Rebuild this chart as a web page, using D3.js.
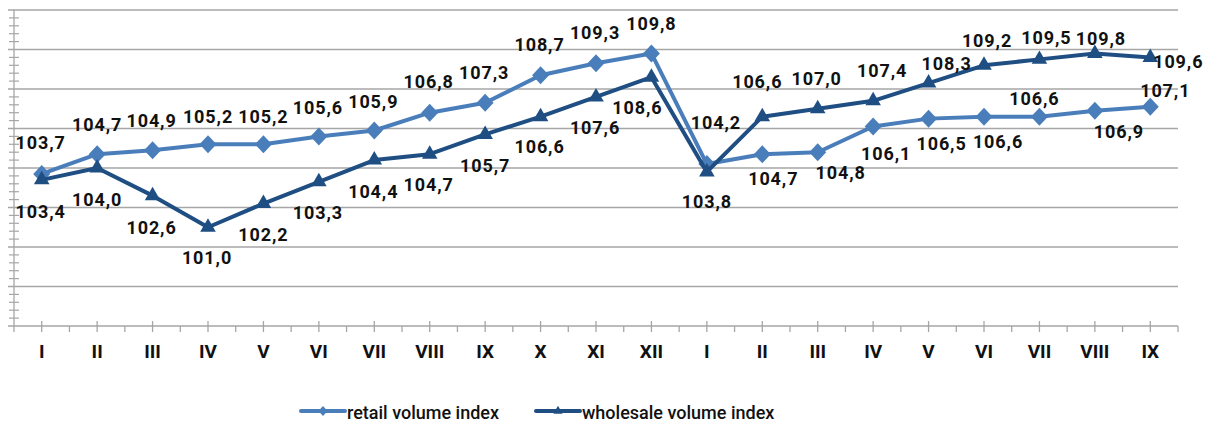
<!DOCTYPE html>
<html>
<head>
<meta charset="utf-8">
<script src="https://cdn.jsdelivr.net/npm/d3@7"></script>
<style>
  html, body { margin: 0; padding: 0; background: #fff; }
  svg { display: block; font-family: Roboto, "Noto Sans", sans-serif; }
</style>
</head>
<body>
<svg id="chart" width="1220" height="424"></svg>
<script>
// ---- data ----
const categories = ["I","II","III","IV","V","VI","VII","VIII","IX","X","XI","XII",
                    "I","II","III","IV","V","VI","VII","VIII","IX"];
const retail = [103.7,104.7,104.9,105.2,105.2,105.6,105.9,106.8,107.3,108.7,109.3,109.8,
                104.2,104.7,104.8,106.1,106.5,106.6,106.6,106.9,107.1];
const wholesale = [103.4,104.0,102.6,101.0,102.2,103.3,104.4,104.7,105.7,106.6,107.6,108.6,
                   103.8,106.6,107.0,107.4,108.3,109.2,109.5,109.8,109.6];
const seriesNames = ["retail volume index", "wholesale volume index"];
const yDomain = [96, 112];

// label placement offsets (dx, dy) relative to each point
const retailLabelOffset = [[-1,-31],[0,-30],[-1,-30],[0,-28],[0,-28],[-1,-29],[-1,-29],[-1,-31],[-1,-30],[-1,-31],[-1,-31],[0,-30],
                           [9,-42],[11,24],[23,20],[13,27],[13,25],[14,25],[-5,-18],[24,21],[15,-16]];
const wholesaleLabelOffset = [[-1,32],[0,31],[-1,32],[-1,30],[0,31],[-1,31],[-1,31],[-1,30],[0,31],[-1,30],[-1,31],[-14,30],
                              [0,30],[-5,-35],[-1,-30],[9,-30],[18,-20],[3,-25],[7,-22],[6,-15],[28,4]];

(function () {
// ---- layout ----
const svg = d3.select("#chart");
const mLeft = 14, mRight = 1178, mTop = 10, mBottom = 326;
const retailColor = "#4a7ebb";
const wholesaleColor = "#1f4e83";
const gridColor = "#a6a6a6";

const x = d3.scaleBand().domain(d3.range(categories.length)).range([mLeft, mRight]).paddingInner(0).paddingOuter(0);
const cx = i => x(i) + x.bandwidth() / 2;
const y = d3.scaleLinear().domain(yDomain).range([mBottom, mTop]);

// gridlines
const majorTicks = d3.range(yDomain[0] + 2, yDomain[1] + 0.001, 2);
svg.append("g").selectAll("line").data(majorTicks).join("line")
  .attr("x1", mLeft - 6).attr("x2", mRight)
  .attr("y1", d => y(d)).attr("y2", d => y(d))
  .attr("stroke", gridColor).attr("stroke-width", 1.3);

// y-axis minor ticks
const minorTicks = d3.range(yDomain[0], yDomain[1] + 0.001, 0.4).filter(v => Math.abs((v - yDomain[0]) / 2 - Math.round((v - yDomain[0]) / 2)) > 0.01);
svg.append("g").selectAll("line").data(minorTicks).join("line")
  .attr("x1", mLeft - 5).attr("x2", mLeft + 5)
  .attr("y1", d => y(d)).attr("y2", d => y(d))
  .attr("stroke", gridColor).attr("stroke-width", 1.2);

// y axis line
svg.append("line").attr("x1", mLeft).attr("x2", mLeft).attr("y1", mTop).attr("y2", mBottom + 6)
  .attr("stroke", gridColor).attr("stroke-width", 1.3);
// x axis line
svg.append("line").attr("x1", mLeft - 6).attr("x2", mRight).attr("y1", mBottom).attr("y2", mBottom)
  .attr("stroke", gridColor).attr("stroke-width", 1.3);

// x boundary ticks (outside)
const boundaries = d3.range(1, categories.length + 1).map(i => mLeft + i * x.bandwidth());
svg.append("g").selectAll("line").data(boundaries).join("line")
  .attr("x1", d => d).attr("x2", d => d).attr("y1", mBottom).attr("y2", mBottom + 6)
  .attr("stroke", gridColor).attr("stroke-width", 1.3);
// x center ticks (cross)
svg.append("g").selectAll("line").data(d3.range(categories.length)).join("line")
  .attr("x1", d => cx(d)).attr("x2", d => cx(d)).attr("y1", mBottom - 5).attr("y2", mBottom + 6)
  .attr("stroke", gridColor).attr("stroke-width", 1.3);

// x labels
svg.append("g").selectAll("text").data(categories).join("text")
  .attr("x", (d, i) => cx(i)).attr("y", 351)
  .attr("text-anchor", "middle").attr("dominant-baseline", "central")
  .attr("font-size", 19).attr("font-weight", 700).attr("fill", "#111")
  .text(d => d);

const diamond = "M0,-9L8.5,0L0,9L-8.5,0Z";
const triangle = d3.symbol().type(d3.symbolTriangle).size(105)();

const line = d3.line().x((d, i) => cx(i)).y(d => y(d));

function drawSeries(values, color, markerPath) {
  const g = svg.append("g");
  g.append("path").datum(values).attr("d", line)
    .attr("fill", "none").attr("stroke", color).attr("stroke-width", 4)
    .attr("stroke-linejoin", "round");
  g.selectAll("path.m").data(values).join("path").attr("class", "m")
    .attr("d", markerPath)
    .attr("transform", (d, i) => `translate(${cx(i)},${y(d)})`)
    .attr("fill", color);
  return g;
}
function drawLabels(values, offsets) {
  svg.append("g").selectAll("text").data(values).join("text")
    .attr("x", (d, i) => cx(i) + offsets[i][0])
    .attr("y", (d, i) => y(d) + offsets[i][1])
    .attr("text-anchor", "middle").attr("dominant-baseline", "central")
    .attr("font-size", 18).attr("font-weight", 700).attr("fill", "#111")
    .attr("letter-spacing", 0.9)
    .text(d => d3.format(".1f")(d).replace(".", ","));
}

drawSeries(retail, retailColor, diamond);
drawSeries(wholesale, wholesaleColor, triangle);
drawLabels(retail, retailLabelOffset);
drawLabels(wholesale, wholesaleLabelOffset);

// legend
const legendItems = [
  { name: seriesNames[0], color: retailColor, marker: "M0,-5L4.5,0L0,5L-4.5,0Z", x0: 301 },
  { name: seriesNames[1], color: wholesaleColor, marker: d3.symbol().type(d3.symbolTriangle).size(36)(), x0: 536 }
];
const ly = 411;
const lg = svg.append("g");
legendItems.forEach(it => {
  lg.append("line").attr("x1", it.x0).attr("x2", it.x0 + 44).attr("y1", ly).attr("y2", ly)
    .attr("stroke", it.color).attr("stroke-width", 4).attr("stroke-linecap", "round");
  lg.append("path").attr("d", it.marker).attr("transform", `translate(${it.x0 + 22},${ly})`).attr("fill", it.color);
  lg.append("text").attr("x", it.x0 + 46).attr("y", ly + 1)
    .attr("dominant-baseline", "central").attr("font-size", 18).attr("font-weight", 500)
    .attr("fill", "#111").text(it.name);
});
})();
</script>
</body>
</html>
